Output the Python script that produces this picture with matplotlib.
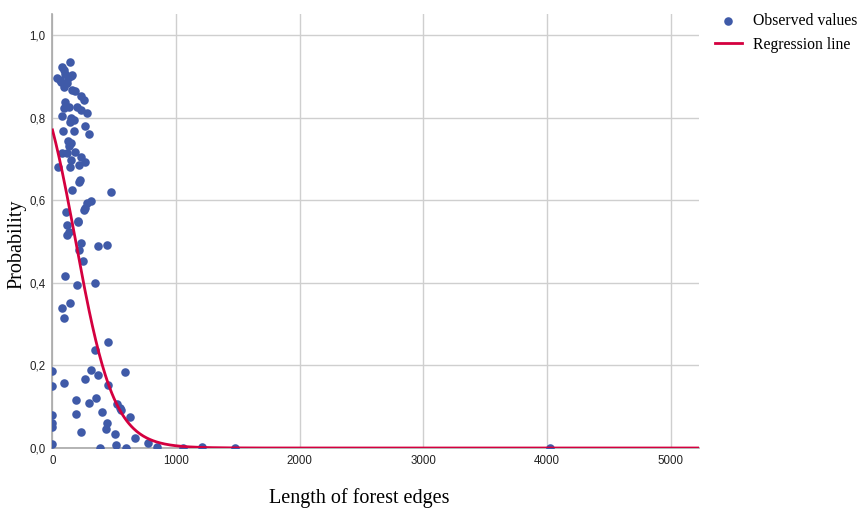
import numpy as np
import matplotlib
matplotlib.use("Agg")
import matplotlib.pyplot as plt
from matplotlib.ticker import FuncFormatter

# Observed values: length of forest edges vs. probability
edge_length = [
    140, 78, 92, 105, 38, 60, 146, 160, 125, 92, 119, 70, 160, 186, 227, 253,
    105, 92, 132, 200, 227, 281, 73, 146, 178, 140, 262, 87, 178, 294, 127,
    146, 135, 78, 119, 186, 43, 146, 227, 262, 140, 213, 221, 215, 154, 470,
    308, 281, 267, 255, 111, 205,
    119, 205, 119, 132, 227, 216, 370, 443, 243, 105, 197, 345, 140, 81, 92,
    451, 343, 0, 313, 583, 367, 259, 92, 0, 451, 189, 351, 292, 524, 545,
    556, 397, 192, 0, 626, 0, 0, 443, 432, 227, 502, 667, 772, 848, 0, 516,
    383, 597, 1058, 1206, 1476, 4020,
]
probability = [
    0.934, 0.923, 0.915, 0.905, 0.895, 0.892, 0.900, 0.903, 0.895, 0.875,
    0.883, 0.885, 0.867, 0.863, 0.851, 0.843, 0.838, 0.822, 0.826, 0.826,
    0.818, 0.810, 0.804, 0.798, 0.794, 0.790, 0.780, 0.768, 0.768, 0.760,
    0.742, 0.738, 0.730, 0.713, 0.713, 0.717, 0.679, 0.697, 0.705, 0.693,
    0.681, 0.685, 0.649, 0.643, 0.625, 0.620, 0.598, 0.592, 0.580, 0.575,
    0.571, 0.550,
    0.540, 0.548, 0.516, 0.524, 0.497, 0.479, 0.489, 0.491, 0.453, 0.416,
    0.394, 0.399, 0.350, 0.340, 0.314, 0.257, 0.237, 0.187, 0.189, 0.185,
    0.177, 0.167, 0.158, 0.150, 0.153, 0.116, 0.122, 0.110, 0.107, 0.098,
    0.092, 0.088, 0.082, 0.080, 0.076, 0.060, 0.052, 0.061, 0.046, 0.039,
    0.034, 0.023, 0.013, 0.003, 0.010, 0.007, 0.000, 0.000, 0.001, 0.002,
    0.000, 0.000,
]

# Logistic regression coefficients
intercept = 1.208
slope = -0.00643

x_ticks = [0, 1000, 2000, 3000, 4000, 5000]
y_ticks = [0.0, 0.2, 0.4, 0.6, 0.8, 1.0]

point_color = "#3f5aa8"
line_color = "#d4003f"
grid_color = "#cfcfcf"
axis_color = "#a8a8a8"

fig = plt.figure(figsize=(8.66, 5.12), dpi=100)
ax = fig.add_axes([0.0606, 0.125, 0.7468, 0.848])

ax.scatter(edge_length, probability, s=38, color=point_color, zorder=3,
           linewidths=0, label="Observed values")

xs = np.linspace(0, 5230, 600)
ys = 1.0 / (1.0 + np.exp(-(intercept + slope * xs)))
ax.plot(xs, ys, color=line_color, lw=2.0, zorder=4, label="Regression line")

ax.set_xlim(0, 5230)
ax.set_ylim(0, 1.051)
ax.set_xticks(x_ticks)
ax.set_yticks(y_ticks)
ax.yaxis.set_major_formatter(FuncFormatter(lambda v, p: f"{v:.1f}".replace(".", ",")))
ax.tick_params(length=0, labelsize=8.3, labelcolor="#222222", pad=5)
for lbl in ax.get_xticklabels() + ax.get_yticklabels():
    lbl.set_family("Liberation Sans")

ax.grid(True, color=grid_color, lw=1.0, zorder=0)
ax.set_axisbelow(True)
for side in ("top", "right"):
    ax.spines[side].set_visible(False)
for side in ("left", "bottom"):
    ax.spines[side].set_color(axis_color)
    ax.spines[side].set_linewidth(1.2)

ax.set_xlabel("Length of forest edges", family="Liberation Serif", fontsize=14.5)
ax.xaxis.set_label_coords(0.474, -0.092)
ax.set_ylabel("Probability", family="Liberation Serif", fontsize=14.5)
ax.yaxis.set_label_coords(-0.041, 0.47)

leg = ax.legend(loc="upper left", bbox_to_anchor=(1.014, 1.017), frameon=False,
                prop={"family": "Liberation Serif", "size": 11.3},
                handlelength=1.75, handletextpad=0.7, labelspacing=0.5,
                borderaxespad=0.0)

fig.savefig("out.png", dpi=100)
